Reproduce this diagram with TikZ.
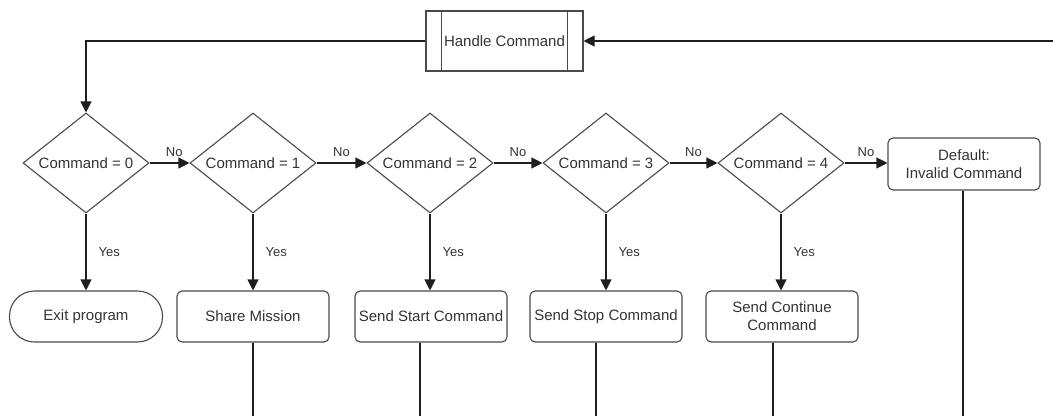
\documentclass[tikz,border=0pt]{standalone}
\usepackage{fontspec}
\setmainfont{Liberation Sans}
\usetikzlibrary{shapes.geometric,arrows.meta}
\definecolor{linec}{HTML}{1E1E1E}
\definecolor{boxc}{HTML}{4A4A4A}
\definecolor{txtc}{HTML}{333333}
\begin{document}
\begin{tikzpicture}[x=1pt,y=-1pt,
  line/.style={draw=linec, line width=1.1pt},
  arr/.style={line, -{Triangle[length=11pt,width=11pt]}},
  dec/.style={diamond, draw=boxc, line width=1.1pt, minimum width=126pt, minimum height=100pt, inner sep=0pt, shape aspect=1.26, font=\fontsize{15}{18}\selectfont, text=txtc},
  proc/.style={rectangle, rounded corners=5pt, draw=boxc, line width=1.1pt, minimum width=152pt, minimum height=51pt, inner sep=0pt, align=center, font=\fontsize{15}{18}\selectfont, text=txtc},
  term/.style={proc, rounded corners=25pt, minimum width=153pt},
  sub/.style={rectangle, draw=boxc, line width=1.1pt, minimum width=157pt, minimum height=60pt, inner sep=0pt, font=\fontsize{15}{18}\selectfont, text=txtc},
  lbl/.style={font=\fontsize{13}{15}\selectfont, text=txtc, inner sep=0pt}
]
\useasboundingbox (0,0) rectangle (1053,416);

% subroutine
\node[sub] (h) at (504.5,41) {Handle Command};
\draw[boxc, line width=1.1pt] ([xshift=16pt]h.north west) -- ([xshift=16pt]h.south west);
\draw[boxc, line width=1.1pt] ([xshift=-16pt]h.north east) -- ([xshift=-16pt]h.south east);

% decisions
\node[dec] (d0) at (86,163) {Command = 0};
\node[dec] (d1) at (253,163) {Command = 1};
\node[dec] (d2) at (430,163) {Command = 2};
\node[dec] (d3) at (606,163) {Command = 3};
\node[dec] (d4) at (781,163) {Command = 4};
\node[proc, minimum height=52pt] (df) at (964,164) {Default:\\Invalid Command};

% actions
\node[term] (t0) at (86,316.5) {Exit program};
\node[proc] (p1) at (253,316.5) {Share Mission};
\node[proc] (p2) at (431,316.5) {Send Start Command};
\node[proc] (p3) at (606,316.5) {Send Stop Command};
\node[proc] (p4) at (782,316.5) {Send Continue\\Command};

% free ends
\coordinate (in) at (1053,41);
\coordinate (e1) at (253,416);
\coordinate (e2) at (420,416);
\coordinate (e3) at (596,416);
\coordinate (e4) at (773,416);
\coordinate (e5) at (963,416);

% connectors top
\draw[arr] (in) -- (h.east);
\draw[arr] (h.west) -| (d0.north);

% No chain
\draw[arr] (d0.east) -- node[lbl, pos=0.62, above=6pt] (n0) {No} (d1.west);
\draw[arr] (d1.east) -- node[lbl, above=6pt] (n1) {No} (d2.west);
\draw[arr] (d2.east) -- node[lbl, above=6pt] (n2) {No} (d3.west);
\draw[arr] (d3.east) -- node[lbl, above=6pt] (n3) {No} (d4.west);
\draw[arr] (d4.east) -- node[lbl, above=6pt] (n4) {No} (d4.east -| df.west);

% Yes
\draw[arr] (d0.south) -- node[lbl, right=12pt] (y0) {Yes} (t0.north);
\draw[arr] (d1.south) -- node[lbl, right=12pt] (y1) {Yes} (p1.north);
\draw[arr] (d2.south) -- node[lbl, right=12pt] (y2) {Yes} (d2.south |- p2.north);
\draw[arr] (d3.south) -- node[lbl, right=12pt] (y3) {Yes} (p3.north);
\draw[arr] (d4.south) -- node[lbl, right=12pt] (y4) {Yes} (d4.south |- p4.north);

% outgoing
\draw[line] (p1.south) -- (e1);
\draw[line] (p2.south -| e2) -- (e2);
\draw[line] (p3.south -| e3) -- (e3);
\draw[line] (p4.south -| e4) -- (e4);
\draw[line] (df.south -| e5) -- (e5);
\end{tikzpicture}
\end{document}
